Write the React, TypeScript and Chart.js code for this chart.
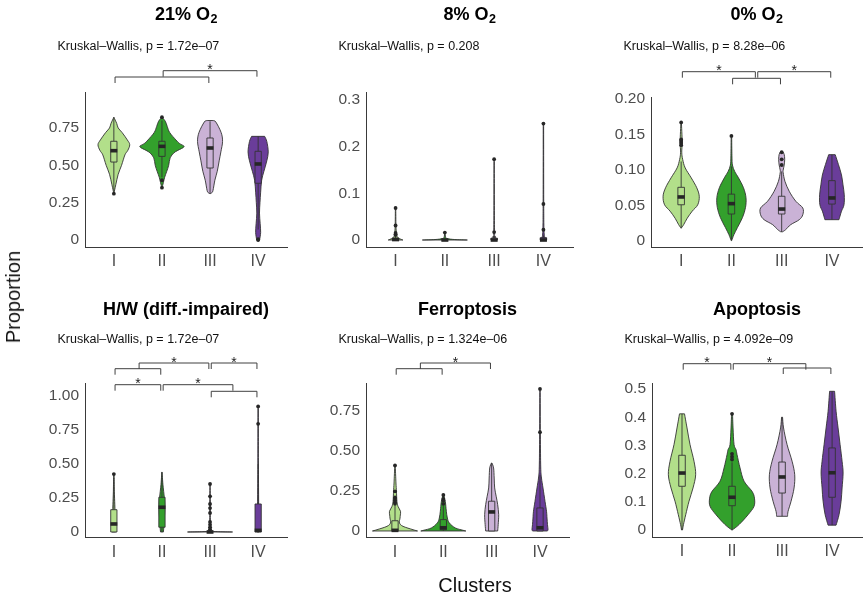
import React, { useEffect, useRef } from "react";
import { Chart, registerables } from "chart.js";
Chart.register(...registerables);

const FONT = "'Liberation Sans', Arial, Helvetica, sans-serif";
const clusters = ["I", "II", "III", "IV"];
const clusterColors = ["#B2DF8A", "#33A02C", "#CAB2D6", "#6A3D9A"];

// ---------- Panel 1: 21% O2 ----------
const o21Violins = [
  [[0.822, 0], [0.78, 0.06], [0.75, 0.09], [0.72, 0.17], [0.67, 0.28], [0.638, 0.33], [0.6, 0.29], [0.57, 0.23], [0.5, 0.16], [0.44, 0.09], [0.37, 0.04], [0.31, 0]],
  [[0.822, 0], [0.795, 0.07], [0.76, 0.11], [0.72, 0.16], [0.67, 0.29], [0.645, 0.37], [0.625, 0.46], [0.6, 0.33], [0.584, 0.25], [0.55, 0.17], [0.5, 0.14], [0.46, 0.1], [0.42, 0.056], [0.385, 0.03], [0.348, 0]],
  [[0.8, 0.06], [0.79, 0.12], [0.72, 0.23], [0.66, 0.26], [0.59, 0.225], [0.53, 0.19], [0.46, 0.15], [0.4, 0.1], [0.33, 0.06], [0.315, 0.03], [0.31, 0]],
  [[0.694, 0.135], [0.66, 0.18], [0.59, 0.21], [0.53, 0.18], [0.46, 0.12], [0.4, 0.073], [0.32, 0.052], [0.25, 0.038], [0.18, 0.028], [0.11, 0.042], [0.05, 0.052], [0.0, 0.03]],
];
const o21Boxes = [
  [0.33, 0.522, 0.598, 0.661, 0.822],
  [0.42, 0.56, 0.627, 0.661, 0.8],
  [0.31, 0.482, 0.616, 0.683, 0.795],
  [0.07, 0.38, 0.509, 0.594, 0.694],
];
const o21Outliers = [[0.31], [0.822, 0.4, 0.35], [], [0.0, 0.005]];
const o21Ticks = [0, 0.25, 0.5, 0.75];
const o21TickLabels = ["0", "0.25", "0.50", "0.75"];

// ---------- Panel 2: 8% O2 ----------
const o8Violins = [
  [[0.0685, 0.004], [0.03, 0.008], [0.012, 0.02], [0.006, 0.04], [0.003, 0.08], [0, 0.148]],
  [[0.016, 0.004], [0.006, 0.015], [0.003, 0.05], [0.001, 0.2], [0, 0.456]],
  [[0.173, 0.004], [0.02, 0.008], [0.008, 0.02], [0.003, 0.04], [0, 0.06]],
  [[0.249, 0.004], [0.08, 0.006], [0.02, 0.012], [0.005, 0.03], [0, 0.06]],
];
const o8Boxes = [
  [0, 0, 0.001, 0.004, 0.009],
  [0, 0, 0, 0.001, 0.002],
  [0, 0, 0, 0.004, 0.008],
  [0, 0, 0, 0.005, 0.01],
];
const o8Outliers = [[0.0685, 0.031, 0.015, 0.012, 0.011], [0.016], [0.173, 0.017], [0.249, 0.077, 0.022]];
const o8Ticks = [0, 0.1, 0.2, 0.3];
const o8TickLabels = ["0", "0.1", "0.2", "0.3"];

// ---------- Panel 3: 0% O2 ----------
const o0Violins = [
  [[0.167, 0.005], [0.14, 0.02], [0.125, 0.012], [0.115, 0.03], [0.103, 0.08], [0.089, 0.2], [0.075, 0.31], [0.063, 0.36], [0.051, 0.33], [0.042, 0.22], [0.032, 0.12], [0.023, 0.05], [0.018, 0]],
  [[0.148, 0.005], [0.12, 0.01], [0.107, 0.02], [0.098, 0.065], [0.089, 0.14], [0.075, 0.24], [0.061, 0.29], [0.047, 0.28], [0.033, 0.22], [0.019, 0.12], [0.009, 0.05], [0.0005, 0.005]],
  [[0.126, 0.02], [0.122, 0.05], [0.115, 0.06], [0.107, 0.05], [0.1, 0.03], [0.096, 0.03], [0.084, 0.065], [0.07, 0.15], [0.056, 0.28], [0.0465, 0.42], [0.037, 0.42], [0.03, 0.35], [0.023, 0.18], [0.016, 0.08], [0.013, 0.02]],
  [[0.1216, 0.065], [0.1075, 0.13], [0.093, 0.19], [0.079, 0.22], [0.065, 0.245], [0.051, 0.24], [0.042, 0.19], [0.035, 0.16], [0.03, 0.14]],
];
const o0Boxes = [
  [0.018, 0.051, 0.062, 0.0756, 0.112],
  [0.001, 0.038, 0.0526, 0.066, 0.105],
  [0.013, 0.038, 0.045, 0.063, 0.098],
  [0.03, 0.052, 0.0606, 0.085, 0.1216],
];
const o0Outliers = [[0.135, 0.138, 0.141, 0.143, 0.167], [0.148], [0.125, 0.115, 0.107], []];
const o0Ticks = [0, 0.05, 0.1, 0.15, 0.2];
const o0TickLabels = ["0", "0.05", "0.10", "0.15", "0.20"];

// ---------- Panel 4: H/W (diff.-impaired) ----------
const hwViolins = [
  [[0.426, 0.005], [0.3, 0.01], [0.2, 0.02], [0.1, 0.03], [0.03, 0.04], [0, 0.04]],
  [[0.44, 0.003], [0.35, 0.02], [0.25, 0.05], [0.18, 0.06], [0.1, 0.05], [0.04, 0.04], [0, 0.03]],
  [[0.353, 0.004], [0.2, 0.008], [0.06, 0.01], [0.01, 0.04], [0.003, 0.15], [0, 0.468]],
  [[0.924, 0.004], [0.5, 0.006], [0.25, 0.01], [0.1, 0.015], [0, 0.02]],
];
const hwBoxes = [
  [0, 0, 0.059, 0.164, 0.4],
  [0, 0.035, 0.182, 0.255, 0.44],
  [0, 0, 0, 0.002, 0.004],
  [0, 0, 0.012, 0.206, 0.5],
];
const hwOutliers = [[0.426], [], [0.353, 0.262, 0.206, 0.176, 0.14, 0.074, 0.054, 0.034, 0.018], [0.924, 0.796]];
const hwTicks = [0, 0.25, 0.5, 0.75, 1];
const hwTickLabels = ["0", "0.25", "0.50", "0.75", "1.00"];

// ---------- Panel 5: Ferroptosis ----------
const ferViolins = [
  [[0.41, 0.005], [0.3, 0.02], [0.248, 0.03], [0.185, 0.04], [0.154, 0.062], [0.123, 0.114], [0.1, 0.11], [0.081, 0.104], [0.05, 0.093], [0.029, 0.166], [0.008, 0.373], [0, 0.466]],
  [[0.227, 0.005], [0.185, 0.04], [0.154, 0.052], [0.123, 0.062], [0.081, 0.083], [0.05, 0.124], [0.019, 0.248], [0.005, 0.4], [0, 0.466]],
  [[0.425, 0.005], [0.394, 0.04], [0.331, 0.052], [0.269, 0.062], [0.217, 0.093], [0.165, 0.124], [0.102, 0.145], [0.04, 0.135], [0, 0.124]],
  [[0.888, 0.004], [0.6, 0.008], [0.4, 0.015], [0.331, 0.031], [0.269, 0.062], [0.185, 0.104], [0.123, 0.135], [0.081, 0.145], [0.04, 0.155], [0.008, 0.166], [0, 0.15]],
];
const ferBoxes = [
  [0, 0, 0.004, 0.064, 0.16],
  [0, 0.008, 0.02, 0.071, 0.16],
  [0, 0, 0.119, 0.186, 0.425],
  [0, 0, 0.02, 0.144, 0.35],
];
const ferOutliers = [[0.41, 0.248, 0.21, 0.2, 0.19, 0.18, 0.17], [0.225, 0.2, 0.19, 0.17], [], [0.888, 0.617]];
const ferTicks = [0, 0.25, 0.5, 0.75];
const ferTickLabels = ["0", "0.25", "0.50", "0.75"];

// ---------- Panel 6: Apoptosis ----------
const apoViolins = [
  [[0.412, 0.05], [0.362, 0.1], [0.303, 0.16], [0.2435, 0.24], [0.196, 0.273], [0.149, 0.22], [0.102, 0.14], [0.054, 0.074], [0.02, 0.03], [0, 0.01]],
  [[0.412, 0.01], [0.362, 0.02], [0.303, 0.04], [0.285, 0.08], [0.267, 0.1], [0.22, 0.16], [0.173, 0.24], [0.137, 0.4], [0.113, 0.448], [0.084, 0.44], [0.054, 0.32], [0.019, 0.14], [0, 0.005]],
  [[0.4, 0.01], [0.362, 0.03], [0.303, 0.1], [0.244, 0.2], [0.196, 0.253], [0.149, 0.24], [0.102, 0.18], [0.066, 0.12], [0.0485, 0.11]],
  [[0.492, 0.05], [0.421, 0.08], [0.362, 0.12], [0.303, 0.16], [0.244, 0.2], [0.202, 0.22], [0.149, 0.2], [0.102, 0.18], [0.055, 0.14], [0.017, 0.08]],
];
const apoBoxes = [
  [0, 0.155, 0.202, 0.265, 0.412],
  [0, 0.086, 0.116, 0.155, 0.24],
  [0.0485, 0.131, 0.188, 0.241, 0.4],
  [0.017, 0.116, 0.203, 0.291, 0.492],
];
const apoOutliers = [[], [0.412, 0.27, 0.26, 0.25], [], []];
const apoTicks = [0, 0.1, 0.2, 0.3, 0.4, 0.5];
const apoTickLabels = ["0", "0.1", "0.2", "0.3", "0.4", "0.5"];

// brackets: [from cluster pos, to cluster pos, level (px from panel top), has star]
const o21Brackets = [[0, 2, -15.3, 0], [1, 3, -21.6, 1]];
const o8Brackets: number[][] = [];
const o0Brackets = [[1, 2, -19, 0], [0, 1.5, -25.6, 1], [1.5, 3, -25.6, 1]];
const hwBrackets = [[2, 3, 8.3, 0], [0, 1, 1.7, 1], [1, 2.5, 1.7, 1], [0, 1, -14.3, 0], [0.5, 2, -20, 1], [2, 3, -20, 1]];
const ferBrackets = [[0, 1, -14.3, 0], [0.5, 2, -20, 1]];
const apoBrackets = [[2, 3, -15.7, 0], [0, 1, -20, 1], [1, 2.5, -20, 1]];

type Panel = {
  title: string; sub: string; kw: string;
  violins: number[][][]; boxes: number[][]; outliers: number[][];
  ticks: number[]; tickLabels: string[]; yMin: number; yMax: number;
  brackets: number[][];
  canvas: number[]; // x, y, w, h
  area: number[]; // left, right, top, bottom (page)
  titleY: number; kwY: number;
};

const panels: Panel[] = [
  { title: "21% O", sub: "2", kw: "Kruskal–Wallis, p = 1.72e–07", violins: o21Violins, boxes: o21Boxes, outliers: o21Outliers, ticks: o21Ticks, tickLabels: o21TickLabels, yMin: -0.049, yMax: 0.989, brackets: o21Brackets, canvas: [0, 0, 290, 297], area: [85, 287, 92.3, 247.3], titleY: 20, kwY: 49.5 },
  { title: "8% O", sub: "2", kw: "Kruskal–Wallis, p = 0.208", violins: o8Violins, boxes: o8Boxes, outliers: o8Outliers, ticks: o8Ticks, tickLabels: o8TickLabels, yMin: -0.0156, yMax: 0.316, brackets: o8Brackets, canvas: [290, 0, 290, 297], area: [366, 573, 92.3, 247.3], titleY: 20, kwY: 49.5 },
  { title: "0% O", sub: "2", kw: "Kruskal–Wallis, p = 8.28e–06", violins: o0Violins, boxes: o0Boxes, outliers: o0Outliers, ticks: o0Ticks, tickLabels: o0TickLabels, yMin: -0.0089, yMax: 0.2024, brackets: o0Brackets, canvas: [580, 0, 284, 297], area: [651, 863, 97.3, 247.3], titleY: 20, kwY: 49.5 },
  { title: "H/W (diff.-impaired)", sub: "", kw: "Kruskal–Wallis, p = 1.72e–07", violins: hwViolins, boxes: hwBoxes, outliers: hwOutliers, ticks: hwTicks, tickLabels: hwTickLabels, yMin: -0.042, yMax: 1.096, brackets: hwBrackets, canvas: [0, 297, 290, 297], area: [85, 287, 383, 537.7], titleY: 315, kwY: 342.5 },
  { title: "Ferroptosis", sub: "", kw: "Kruskal–Wallis, p = 1.324e–06", violins: ferViolins, boxes: ferBoxes, outliers: ferOutliers, ticks: ferTicks, tickLabels: ferTickLabels, yMin: -0.042, yMax: 0.925, brackets: ferBrackets, canvas: [290, 297, 290, 297], area: [366, 569, 383, 537.7], titleY: 315, kwY: 342.5 },
  { title: "Apoptosis", sub: "", kw: "Kruskal–Wallis, p = 4.092e–09", violins: apoViolins, boxes: apoBoxes, outliers: apoOutliers, ticks: apoTicks, tickLabels: apoTickLabels, yMin: -0.025, yMax: 0.519, brackets: apoBrackets, canvas: [580, 297, 284, 297], area: [652, 863, 383.7, 537], titleY: 315, kwY: 342.5 },
];

const Y_AXIS_W = 45;
const X_AXIS_H = 30;
const BOX_HALF = 0.065;
const LINE = "#333333";

function smoothTo(ctx: CanvasRenderingContext2D, pts: { x: number; y: number }[], xc: number, side: number) {
  const clamp = (v: number) => (side > 0 ? Math.max(v, xc) : Math.min(v, xc));
  for (let k = 0; k < pts.length - 1; k++) {
    const p0 = pts[k - 1] || pts[k];
    const p1 = pts[k];
    const p2 = pts[k + 1];
    const p3 = pts[k + 2] || pts[k + 1];
    ctx.bezierCurveTo(
      clamp(p1.x + (p2.x - p0.x) / 6), p1.y + (p2.y - p0.y) / 6,
      clamp(p2.x - (p3.x - p1.x) / 6), p2.y - (p3.y - p1.y) / 6,
      p2.x, p2.y
    );
  }
}

function makePlugin(p: Panel) {
  return {
    id: "violinPanel",
    beforeDatasetsDraw(chart: any) {
      const ctx: CanvasRenderingContext2D = chart.ctx;
      const xs = chart.scales.x;
      const ys = chart.scales.y;
      ctx.save();
      p.violins.forEach((v, i) => {
        const xc = xs.getPixelForValue(i);
        const right = v.map(([val, w]) => ({ x: xs.getPixelForValue(i + w), y: ys.getPixelForValue(val) }));
        const left = v.map(([val, w]) => ({ x: xs.getPixelForValue(i - w), y: ys.getPixelForValue(val) })).reverse();
        ctx.beginPath();
        ctx.moveTo(left[left.length - 1].x, left[left.length - 1].y);
        ctx.lineTo(right[0].x, right[0].y);
        smoothTo(ctx, right, xc, 1);
        ctx.lineTo(left[0].x, left[0].y);
        smoothTo(ctx, left, xc, -1);
        ctx.closePath();
        ctx.fillStyle = clusterColors[i];
        ctx.fill();
        ctx.strokeStyle = LINE;
        ctx.lineWidth = 0.9;
        ctx.lineJoin = "round";
        ctx.stroke();
      });
      p.boxes.forEach(([wlo, q1, med, q3, whi], i) => {
        const xc = xs.getPixelForValue(i);
        const xl = xs.getPixelForValue(i - BOX_HALF);
        const xr = xs.getPixelForValue(i + BOX_HALF);
        ctx.strokeStyle = LINE;
        ctx.lineWidth = 0.9;
        ctx.beginPath();
        ctx.moveTo(xc, ys.getPixelForValue(whi));
        ctx.lineTo(xc, ys.getPixelForValue(q3));
        ctx.moveTo(xc, ys.getPixelForValue(q1));
        ctx.lineTo(xc, ys.getPixelForValue(wlo));
        ctx.stroke();
        const yt = ys.getPixelForValue(q3);
        const yb = ys.getPixelForValue(q1);
        ctx.fillStyle = clusterColors[i];
        ctx.fillRect(xl, yt, xr - xl, yb - yt);
        ctx.strokeRect(xl, yt, xr - xl, yb - yt);
        ctx.fillStyle = "#262626";
        const ym = ys.getPixelForValue(med);
        ctx.fillRect(xl - 0.3, ym - 1.8, xr - xl + 0.6, 3.6);
      });
      ctx.restore();
    },
    afterDraw(chart: any) {
      const ctx: CanvasRenderingContext2D = chart.ctx;
      const ca = chart.chartArea;
      const xs = chart.scales.x;
      const oy = p.canvas[1];
      ctx.save();
      // title
      ctx.fillStyle = "#000";
      ctx.textBaseline = "alphabetic";
      ctx.textAlign = "left";
      const mainFont = `bold 18px ${FONT}`;
      const subFont = `bold 12.5px ${FONT}`;
      ctx.font = mainFont;
      const w1 = ctx.measureText(p.title).width;
      ctx.font = subFont;
      const w2 = p.sub ? ctx.measureText(p.sub).width : 0;
      const cx = (ca.left + ca.right) / 2;
      const sx = cx - (w1 + w2) / 2;
      ctx.font = mainFont;
      ctx.fillText(p.title, sx, p.titleY - oy);
      if (p.sub) {
        ctx.font = subFont;
        ctx.fillText(p.sub, sx + w1 + 0.5, p.titleY - oy + 3);
      }
      // Kruskal-Wallis text
      ctx.font = `12.5px ${FONT}`;
      ctx.fillStyle = "#111";
      ctx.fillText(p.kw, ca.left - 27.5, p.kwY - oy);
      // brackets
      const drop = 6;
      const gap = 1.2;
      ctx.strokeStyle = "#404040";
      ctx.lineWidth = 1;
      p.brackets.forEach(([a, b, lvl, star]) => {
        const x1 = xs.getPixelForValue(a) + gap;
        const x2 = xs.getPixelForValue(b) - gap;
        const y = ca.top + lvl;
        ctx.beginPath();
        ctx.moveTo(x1, y + drop);
        ctx.lineTo(x1, y);
        ctx.lineTo(x2, y);
        ctx.lineTo(x2, y + drop);
        ctx.stroke();
        if (star) {
          ctx.font = `14px ${FONT}`;
          ctx.fillStyle = "#222";
          ctx.textAlign = "center";
          ctx.fillText("*", xs.getPixelForValue((a + b) / 2), y + 3.6);
          ctx.textAlign = "left";
        }
      });
      ctx.restore();
    },
  };
}

function PanelChart({ p }: { p: Panel }) {
  const ref = useRef<HTMLCanvasElement | null>(null);
  useEffect(() => {
    if (!ref.current) return;
    const [cx, cy, cw, ch] = p.canvas;
    const [aL, aR, aT, aB] = p.area;
    const padding = {
      left: aL - cx - Y_AXIS_W,
      right: cx + cw - aR,
      top: aT - cy,
      bottom: cy + ch - aB - X_AXIS_H,
    };
    const points: { x: number; y: number }[] = [];
    p.outliers.forEach((arr, i) => arr.forEach((v) => points.push({ x: i, y: v })));
    const chart = new Chart(ref.current, {
      type: "scatter",
      data: {
        datasets: [
          {
            data: points,
            pointRadius: 1.9,
            pointHoverRadius: 1.9,
            pointBackgroundColor: "#262626",
            pointBorderWidth: 0,
          },
        ],
      },
      options: {
        animation: false,
        responsive: false,
        events: [],
        layout: { padding },
        plugins: { legend: { display: false }, tooltip: { enabled: false }, title: { display: false } },
        scales: {
          x: {
            type: "linear",
            min: -0.6,
            max: 3.6,
            bounds: "data",
            afterBuildTicks: (s: any) => {
              s.ticks = clusters.map((_, i) => ({ value: i }));
            },
            afterFit: (s: any) => {
              s.height = X_AXIS_H;
            },
            ticks: {
              autoSkip: false,
              maxRotation: 0,
              padding: 5,
              color: "#4d4d4d",
              font: { family: FONT, size: 16 },
              callback: (_v: any, idx: number) => clusters[idx],
            },
            grid: { display: false, drawTicks: false, tickLength: 0 },
            border: { display: true, color: "#3a3a3a", width: 1 },
          },
          y: {
            type: "linear",
            min: p.yMin,
            max: p.yMax,
            bounds: "data",
            afterBuildTicks: (s: any) => {
              s.ticks = p.ticks.map((v) => ({ value: v }));
            },
            afterFit: (s: any) => {
              s.width = Y_AXIS_W;
            },
            ticks: {
              autoSkip: false,
              padding: 6,
              color: "#4d4d4d",
              font: { family: FONT, size: 15.5 },
              callback: (_v: any, idx: number) => p.tickLabels[idx],
            },
            grid: { display: false, drawTicks: false, tickLength: 0 },
            border: { display: true, color: "#3a3a3a", width: 1 },
          },
        },
      } as any,
      plugins: [makePlugin(p)],
    });
    return () => chart.destroy();
  }, [p]);
  const [cx, cy, cw, ch] = p.canvas;
  return (
    <canvas
      ref={ref}
      width={cw}
      height={ch}
      style={{ position: "absolute", left: cx, top: cy, width: cw, height: ch }}
    />
  );
}

export default function App() {
  return (
    <div style={{ position: "absolute", left: 0, top: 0, width: 864, height: 594, background: "#fff", overflow: "hidden", fontFamily: FONT }}>
      {panels.map((p, i) => (
        <PanelChart key={i} p={p} />
      ))}
      <div
        style={{
          position: "absolute", left: 13, top: 297, transform: "translate(-50%, -50%) rotate(-90deg)",
          fontSize: 20, lineHeight: 1, whiteSpace: "nowrap", color: "#111",
        }}
      >
        Proportion
      </div>
      <div
        style={{
          position: "absolute", left: 475, top: 585, transform: "translate(-50%, -50%)",
          fontSize: 20, lineHeight: 1, whiteSpace: "nowrap", color: "#111",
        }}
      >
        Clusters
      </div>
    </div>
  );
}
